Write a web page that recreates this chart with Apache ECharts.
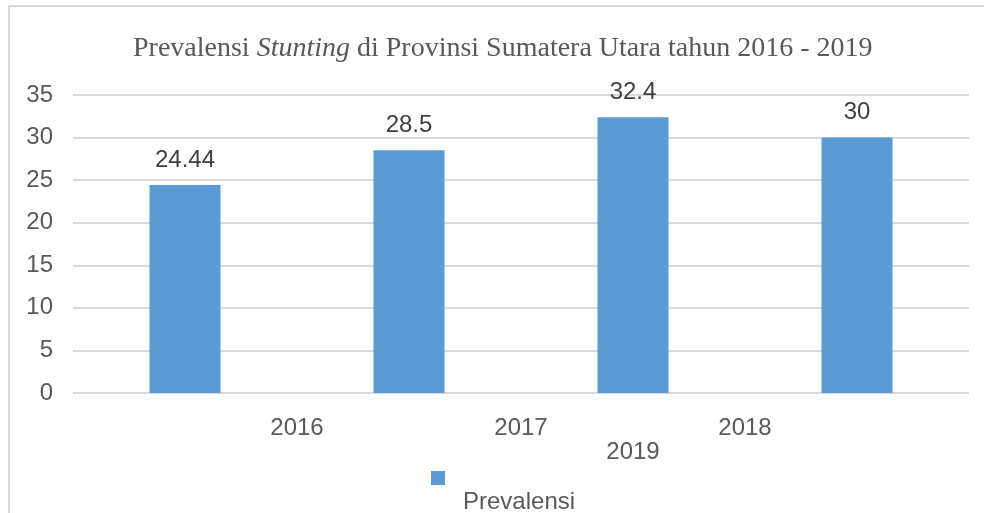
<!DOCTYPE html>
<html>
<head>
<meta charset="utf-8">
<script src="https://cdn.jsdelivr.net/npm/echarts@6/dist/echarts.min.js"></script>
<style>
  html, body { margin: 0; padding: 0; background: #fff; }
  #chart { width: 984px; height: 513px; }
</style>
</head>
<body>
<div id="chart"></div>
<script>
const categories = ["2016", "2017", "2018", "2019"];
const prevalensi = [24.44, 28.5, 32.4, 30];
const yTicks = [0, 5, 10, 15, 20, 25, 30, 35];

// the year labels sit between the bars in the original, last one wraps below
const labelSlots = { 1: 0, 2: 1, 3: 2, 2.5: 3 };

const chart = echarts.init(document.getElementById("chart"));

const serif = "Liberation Serif, Times New Roman, serif";

const option = {
  animation: false,
  textStyle: { fontFamily: "Liberation Sans, Arial, sans-serif" },
  graphic: [
    {
      type: "rect",
      shape: { x: 9, y: 6, width: 1000, height: 600 },
      style: { fill: "none", stroke: "#d9d9d9", lineWidth: 2 },
      silent: true
    }
  ],
  title: {
    text: "{n|Prevalensi }{i|Stunting}{n| di Provinsi Sumatera Utara tahun 2016 - 2019}",
    left: 128,
    top: 30,
    textStyle: {
      rich: {
        n: { fontFamily: serif, fontSize: 28, fontWeight: "normal", color: "#595959" },
        i: { fontFamily: serif, fontSize: 28, fontWeight: "normal", color: "#595959", fontStyle: "italic" }
      }
    }
  },
  legend: {
    data: ["Prevalensi"],
    left: 431,
    top: 430,
    padding: 0,
    icon: "rect",
    itemWidth: 14,
    itemHeight: 14,
    formatter: name => "\n" + name,
    textStyle: {
      fontSize: 24,
      color: "#595959",
      lineHeight: 48,
      padding: [0, 0, 0, 13]
    }
  },
  grid: { left: 73, right: 15, top: 95, bottom: 120 },
  xAxis: [
    {
      type: "category",
      data: categories,
      axisLine: { show: false },
      axisTick: { show: false },
      axisLabel: { show: false }
    },
    {
      type: "value",
      min: 0,
      max: 4,
      interval: 0.5,
      position: "bottom",
      axisLine: { show: false },
      axisTick: { show: false },
      splitLine: { show: false },
      axisLabel: {
        margin: 23,
        fontSize: 24,
        color: "#595959",
        lineHeight: 24,
        verticalAlign: "top",
        formatter: v => {
          const i = labelSlots[v];
          if (i === undefined) return "";
          return v === 2.5 ? "\n" + categories[i] : categories[i];
        }
      }
    }
  ],
  yAxis: {
    type: "value",
    min: yTicks[0],
    max: yTicks[yTicks.length - 1],
    interval: 5,
    axisLine: { show: false },
    axisTick: { show: false },
    axisLabel: { fontSize: 24, color: "#595959", margin: 20 },
    splitLine: { lineStyle: { color: "#d9d9d9", width: 2 } }
  },
  series: [
    {
      name: "Prevalensi",
      type: "bar",
      xAxisIndex: 0,
      data: prevalensi,
      barWidth: 71,
      itemStyle: { color: "#5b9bd5" },
      label: {
        show: true,
        position: "top",
        distance: 13,
        fontSize: 24,
        color: "#404040"
      }
    }
  ]
};

chart.setOption(option);
</script>
</body>
</html>
